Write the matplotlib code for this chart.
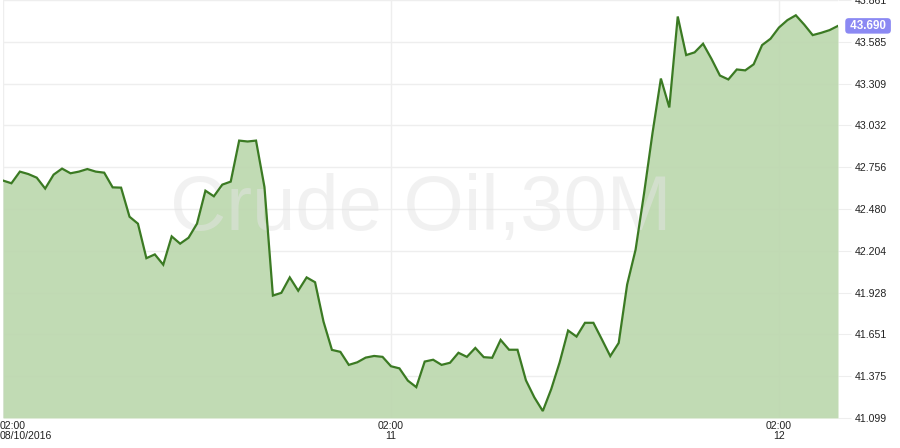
"""Crude Oil 30M area chart."""
import matplotlib.pyplot as plt
import matplotlib.transforms as mtransforms

FONT = "Liberation Sans"
C_LINE = "#3b7a23"
C_FILL = "#bcd8ae"
C_GRID = "#eeeeee"
C_TEXT = "#222222"
C_BADGE = "#8b89f3"
C_MARK = "#e4e4e4"

# 30-minute closes, 02:00 08/10/2016 onwards
close = [
    42.668, 42.650, 42.727, 42.711, 42.687, 42.615, 42.707, 42.747, 42.716, 42.727,
    42.744, 42.727, 42.720, 42.623, 42.621, 42.429, 42.383, 42.155, 42.180, 42.112,
    42.299, 42.251, 42.290, 42.383, 42.601, 42.564, 42.641, 42.661, 42.932, 42.926,
    42.932, 42.625, 41.908, 41.926, 42.028, 41.940, 42.028, 41.996, 41.736, 41.549,
    41.536, 41.450, 41.467, 41.498, 41.509, 41.503, 41.441, 41.427, 41.346, 41.303,
    41.472, 41.484, 41.450, 41.464, 41.530, 41.503, 41.562, 41.501, 41.497, 41.615,
    41.550, 41.550, 41.348, 41.235, 41.145, 41.290, 41.467, 41.677, 41.637, 41.728,
    41.728, 41.619, 41.508, 41.595, 41.981, 42.211, 42.581, 42.979, 43.342, 43.151,
    43.752, 43.497, 43.515, 43.572, 43.472, 43.362, 43.336, 43.402, 43.396, 43.436,
    43.563, 43.605, 43.679, 43.728, 43.760, 43.698, 43.629, 43.644, 43.662, 43.690,
]
y_ticks = [41.099, 41.375, 41.651, 41.928, 42.204, 42.480,
           42.756, 43.032, 43.309, 43.585, 43.861]
x_tick_idx = [0, 46, 92]
x_tick_labels = ["02:00\n08/10/2016", "02:00\n11", "02:00\n12"]
watermark = "Crude Oil,30M"


def main() -> None:
    fig = plt.figure(figsize=(9, 4.48), dpi=100)
    ax = fig.add_axes([3 / 900, 30 / 448, 835 / 900, 418 / 448])
    x = list(range(len(close)))

    # grid sits under a slightly see-through fill
    ax.set_axisbelow(True)
    ax.grid(True, color=C_GRID, lw=1)

    ax.fill_between(x, close, y_ticks[0], color=C_FILL, alpha=0.92,
                    lw=0, zorder=1)
    ax.text(0.5, 0.5, watermark, transform=ax.transAxes,
            ha="center", va="center", fontsize=56, fontfamily=FONT,
            color=C_MARK, alpha=0.5, zorder=2)
    ax.plot(x, close, color=C_LINE, lw=1.6, zorder=4,
            solid_joinstyle="miter")

    ax.set_xlim(0, len(close) - 1)
    ax.set_ylim(y_ticks[0], y_ticks[-1])
    for s in ax.spines.values():
        s.set_visible(False)

    ax.yaxis.tick_right()
    ax.set_yticks(y_ticks, [f"{v:.3f}" for v in y_ticks])
    ax.tick_params(axis="y", length=9, color=C_GRID, pad=3,
                   labelsize=7.6, labelcolor=C_TEXT)
    ax.set_xticks(x_tick_idx, x_tick_labels)
    ax.tick_params(axis="x", length=0, pad=2, labelsize=7.6,
                   labelcolor=C_TEXT)
    for lbl in ax.get_xticklabels():
        lbl.set_fontfamily(FONT)
        lbl.set_linespacing(1.0)
    for lbl in ax.get_yticklabels():
        lbl.set_fontfamily(FONT)
    first = ax.get_xticklabels()[0]
    first.set_horizontalalignment("left")
    first.set_transform(first.get_transform() + mtransforms.ScaledTranslation(
        -3 / 100, 0, fig.dpi_scale_trans))

    # last price badge
    trans = mtransforms.blended_transform_factory(ax.transAxes, ax.transData)
    ax.text(1.0 + 9 / 835, close[-1], f" {close[-1]:.3f} ", transform=trans,
            ha="left", va="center", fontsize=8.4, fontweight="bold",
            color="white", fontfamily=FONT, zorder=6,
            bbox=dict(boxstyle="round,pad=0.15,rounding_size=0.3",
                      fc=C_BADGE, ec="none"))

    fig.savefig("out.png", dpi=100)


if __name__ == "__main__":
    main()
